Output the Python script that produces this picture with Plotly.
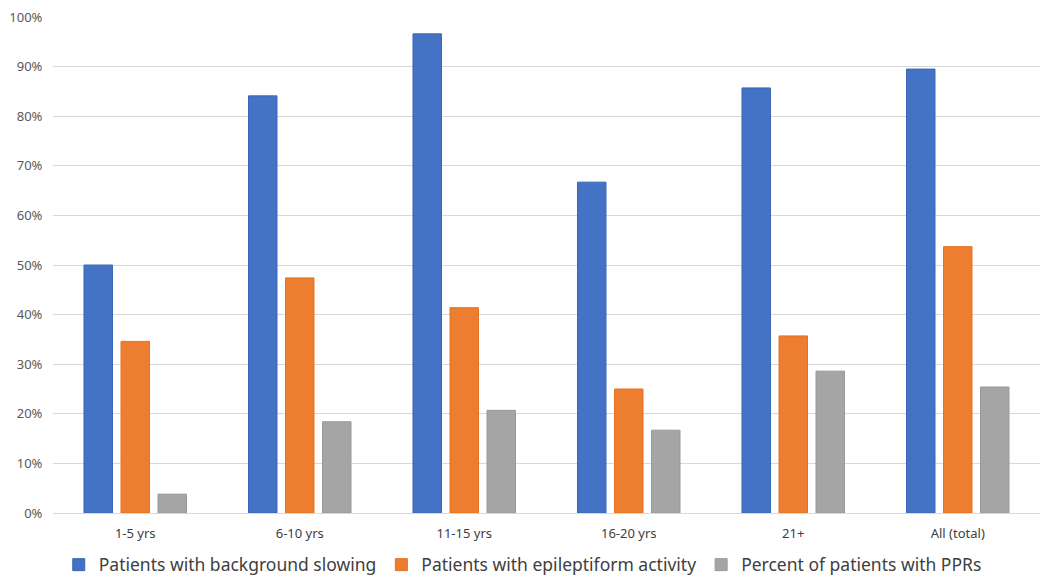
import plotly.graph_objects as go

# | data section |
age_groups = ["1-5 yrs", "6-10 yrs", "11-15 yrs", "16-20 yrs", "21+", "All (total)"]
background_slowing = [50.0, 84.1, 96.6, 66.7, 85.7, 89.5]
epileptiform_activity = [34.6, 47.4, 41.4, 25.0, 35.7, 53.7]
pprs = [3.8, 18.4, 20.7, 16.7, 28.6, 25.4]

series_names = [
    "Patients with background slowing",
    "Patients with epileptiform activity",
    "Percent of patients with PPRs",
]

# | graph section |
fig = go.Figure()

for name, values, fill, edge in [
    (series_names[0], background_slowing, "#4472C4", "#3A66B8"),
    (series_names[1], epileptiform_activity, "#ED7D31", "#E8721F"),
    (series_names[2], pprs, "#A5A5A5", "#999999"),
]:
    fig.add_trace(
        go.Bar(
            x=age_groups,
            y=values,
            name=name,
            marker={"color": fill, "line": {"color": edge, "width": 1}},
        )
    )

font = "Noto Sans, Open Sans, sans-serif"

# page body keeps an 8px margin, so the figure starts at (8, 8)
fig.update_layout(
    barmode="group",
    bargap=0.325,
    bargroupgap=0.23,
    width=1042,
    height=574,
    margin={"l": 45, "r": 10, "t": 9, "b": 69, "autoexpand": False},
    paper_bgcolor="white",
    plot_bgcolor="white",
    font={"family": font, "color": "#595959"},
    legend={
        "orientation": "h",
        "xref": "container",
        "yref": "container",
        "x": 0.494,
        "xanchor": "center",
        "y": 0.03,
        "yanchor": "middle",
        "font": {"size": 17.5, "color": "#404040"},
        "itemwidth": 30,
    },
    xaxis={
        "showgrid": False,
        "showline": True,
        "linecolor": "#D9D9D9",
        "linewidth": 1,
        "tickfont": {"size": 13, "color": "#404040"},
        "ticks": "outside",
        "ticklen": 8,
        "tickcolor": "rgba(0,0,0,0)",
        "automargin": False,
    },
    yaxis={
        "range": [0, 100],
        "dtick": 10,
        "ticksuffix": "%",
        "showgrid": True,
        "gridcolor": "#D9D9D9",
        "gridwidth": 1,
        "zeroline": False,
        "tickfont": {"size": 13, "color": "#595959"},
        "ticks": "outside",
        "ticklen": 7,
        "tickcolor": "rgba(0,0,0,0)",
        "ticklabeloverflow": "allow",
        "automargin": False,
    },
)

fig.write_html("out.html")
